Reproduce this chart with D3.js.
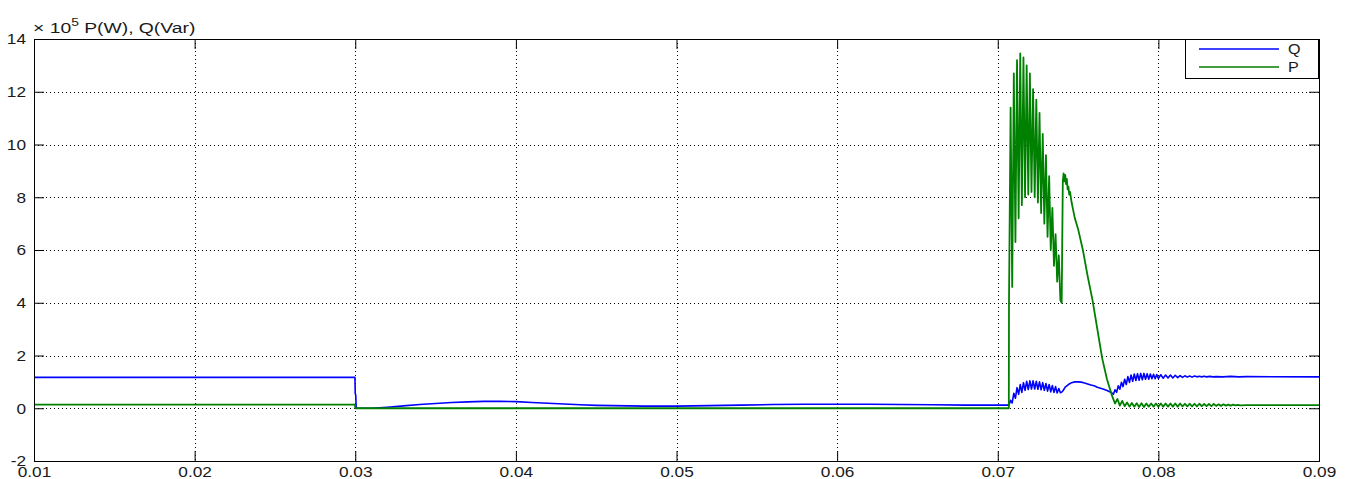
<!DOCTYPE html>
<html><head><meta charset="utf-8">
<script src="https://cdn.jsdelivr.net/npm/d3@7/dist/d3.min.js"></script>
<style>
body{margin:0;background:#fff}
svg{display:block}
text{font-family:"Liberation Sans",Arial,Helvetica,sans-serif;fill:#1a1a1a}
</style>
</head><body>
<svg id="chart" width="1350" height="479"></svg>
<script>
// ---------- data ----------
const xTicks = [0.01,0.02,0.03,0.04,0.05,0.06,0.07,0.08,0.09];
const xTickLabels = ["0.01","0.02","0.03","0.04","0.05","0.06","0.07","0.08","0.09"];
const yTicks = [-2,0,2,4,6,8,10,12,14];
const yTickLabels = ["-2","0","2","4","6","8","10","12","14"];
const seriesNames = ["Q","P"];
const seriesColors = ["#0000ff","#008000"];
const yLabelPrefix = "\u00d7 10";
const yLabelExp = "5";
const yLabelText = " P(W), Q(Var)";

// Q (reactive power, x10^5 Var): [time s, value]
const qPoints = [
 [0.01,1.17],[0.02998,1.17],[0.03,0.55],[0.03003,0.5],[0.03006,0.0],[0.031,0.0],
 [0.032,0.04],[0.033,0.09],[0.034,0.14],[0.035,0.18],[0.036,0.22],[0.037,0.24],
 [0.038,0.26],[0.039,0.26],[0.040,0.25],[0.041,0.22],[0.042,0.19],[0.043,0.16],
 [0.044,0.13],[0.045,0.11],[0.046,0.10],[0.047,0.09],[0.048,0.08],[0.049,0.08],
 [0.050,0.08],[0.051,0.09],[0.052,0.10],[0.054,0.12],[0.056,0.14],[0.058,0.15],
 [0.060,0.15],[0.062,0.15],[0.064,0.14],[0.066,0.13],[0.068,0.12],[0.0707,0.12],
 [0.0708,0.30],[0.0709,0.20],[0.0710,0.57],[0.0711,0.38],[0.0712,0.78],[0.0713,0.53],
 [0.0714,0.90],[0.0715,0.60],[0.0716,0.97],[0.0717,0.68],[0.0718,1.02],[0.0719,0.71],
 [0.0720,1.04],[0.0721,0.73],[0.0722,1.04],[0.0723,0.73],[0.0724,1.02],[0.0725,0.72],
 [0.0726,1.00],[0.0727,0.70],[0.0728,0.97],[0.0729,0.68],[0.0730,0.94],[0.0731,0.65],
 [0.0732,0.90],[0.0733,0.62],[0.0734,0.86],[0.0735,0.60],[0.0736,0.82],[0.0737,0.58],
 [0.0738,0.75],[0.0739,0.59],[0.0740,0.62],
 [0.0741,0.70],[0.0742,0.80],[0.0744,0.90],[0.0746,0.97],[0.0748,1.00],[0.0750,1.00],
 [0.0752,0.99],[0.0754,0.96],[0.0756,0.92],[0.0758,0.88],[0.0760,0.85],[0.0762,0.80],
 [0.0764,0.76],[0.0766,0.72],[0.0768,0.67],[0.0770,0.62],[0.0771,0.58],[0.0772,0.53],
 [0.0773,0.70],[0.0774,0.60],[0.0775,0.85],[0.0776,0.72],[0.0777,0.98],[0.0778,0.82],
 [0.0779,1.10],[0.0780,0.90],[0.0781,1.20],[0.0782,0.98],[0.0783,1.26],[0.0784,1.02],
 [0.0785,1.30],[0.0786,1.05],[0.0787,1.31],[0.0788,1.06],[0.0789,1.32],[0.0790,1.08],
 [0.0791,1.32],[0.0792,1.10],[0.0793,1.31],[0.0794,1.10],[0.0795,1.30],[0.0796,1.12],
 [0.0797,1.29],[0.0798,1.12],[0.0799,1.28],[0.0800,1.13],
 [0.08015,1.27],[0.0803,1.14],[0.08045,1.26],[0.0806,1.15],[0.08075,1.26],[0.0809,1.15],
 [0.08105,1.25],[0.0812,1.16],[0.08135,1.24],[0.0815,1.17],[0.08165,1.23],[0.0818,1.18],
 [0.08195,1.22],[0.0821,1.18],[0.08225,1.22],[0.0824,1.19],[0.08255,1.21],[0.0827,1.19],
 [0.08285,1.21],[0.0830,1.19],[0.0832,1.21],[0.0834,1.19],[0.0836,1.20],[0.0840,1.19],
 [0.0845,1.21],[0.0850,1.19],[0.0855,1.20],[0.0900,1.19]
];

// P (active power, x10^5 W): [time s, value]
const pPoints = [
 [0.01,0.14],[0.02998,0.14],[0.03,0.0],[0.07069,0.0],
 [0.0707,4.0],[0.0708,11.4],[0.0709,4.6],[0.0710,12.7],[0.0711,6.3],[0.0712,13.2],
 [0.0713,7.2],[0.0714,13.45],[0.0715,7.7],[0.0716,13.3],[0.0717,8.0],[0.0718,13.0],
 [0.0719,8.1],[0.0720,12.7],[0.0721,8.2],[0.0722,12.1],[0.0723,8.0],[0.0724,11.7],
 [0.0725,7.8],[0.0726,11.2],[0.0727,7.4],[0.0728,10.4],[0.0729,7.0],[0.0730,9.6],
 [0.0731,6.5],[0.0732,8.8],[0.0733,6.0],[0.0734,7.6],[0.0735,5.4],[0.0736,6.6],
 [0.0737,4.8],[0.0738,5.8],[0.0739,4.1],[0.07398,4.0],
 [0.07405,8.6],[0.0741,8.9],[0.07415,8.6],[0.0742,8.85],[0.07425,8.5],[0.0743,8.7],
 [0.07435,8.3],[0.0744,8.4],[0.07445,8.1],[0.0745,8.2],[0.0746,7.8],[0.0747,7.5],
 [0.0748,7.2],[0.0750,6.8],[0.0753,6.0],[0.0756,5.0],[0.0759,4.1],[0.0762,3.0],
 [0.0765,1.9],[0.0768,1.1],[0.0771,0.5],[0.0773,0.18],
 [0.07745,0.35],[0.0776,0.10],[0.07775,0.28],[0.0779,0.08],[0.07805,0.22],[0.0782,0.06],
 [0.07835,0.20],[0.0785,0.06],[0.07865,0.19],[0.0788,0.05],[0.07895,0.19],[0.0791,0.05],
 [0.07925,0.18],[0.0794,0.06],[0.07955,0.18],[0.0797,0.06],[0.07985,0.18],[0.0800,0.06],
 [0.08015,0.18],[0.0803,0.06],[0.08045,0.18],[0.0806,0.06],[0.08075,0.18],[0.0809,0.06],
 [0.08105,0.18],[0.0812,0.06],[0.08135,0.18],[0.0815,0.07],[0.08165,0.17],[0.0818,0.07],
 [0.08195,0.17],[0.0821,0.07],[0.08225,0.17],[0.0824,0.07],[0.08255,0.17],[0.0827,0.08],
 [0.08285,0.16],[0.0830,0.08],[0.08315,0.16],[0.0833,0.08],[0.08345,0.16],[0.0836,0.09],
 [0.08375,0.15],[0.0839,0.09],[0.08405,0.15],[0.0842,0.10],[0.08435,0.14],[0.0845,0.10],
 [0.08465,0.14],[0.0848,0.11],[0.08495,0.13],[0.0851,0.11],[0.0855,0.12],[0.0900,0.12]
];

// ---------- layout ----------
const svg = d3.select("#chart");
const plot = {left:34, right:1319, top:39, bottom:461};
const x = d3.scaleLinear().domain([0.01,0.09]).range([plot.left, plot.right]);
const y = d3.scaleLinear().domain([-2,14]).range([plot.bottom, plot.top]);
const tickLen = 10;
const tickScaleX = 1.15;

svg.append("rect").attr("width",1350).attr("height",479).attr("fill","#fff");

svg.append("defs").append("clipPath").attr("id","clip")
  .append("rect").attr("x",plot.left).attr("y",plot.top)
  .attr("width",plot.right-plot.left).attr("height",plot.bottom-plot.top);

// grid
const grid = svg.append("g").attr("stroke","#000").attr("stroke-width",1)
  .attr("stroke-dasharray","1,3").attr("fill","none");
grid.selectAll("line.gx").data(xTicks.slice(1,-1)).join("line").attr("class","gx")
  .attr("x1",d=>Math.round(x(d))+0.5).attr("x2",d=>Math.round(x(d))+0.5)
  .attr("y1",plot.top).attr("y2",plot.bottom);
grid.selectAll("line.gy").data(yTicks.slice(1,-1)).join("line").attr("class","gy")
  .attr("y1",d=>Math.round(y(d))+0.5).attr("y2",d=>Math.round(y(d))+0.5)
  .attr("x1",plot.left).attr("x2",plot.right);

// lines
const line = d3.line().x(d=>x(d[0])).y(d=>y(d[1]));
const lines = svg.append("g").attr("clip-path","url(#clip)");
lines.append("path").datum(qPoints).attr("d",line)
  .attr("fill","none").attr("stroke",seriesColors[0]).attr("stroke-width",1.6)
  .attr("stroke-linejoin","round");
lines.append("path").datum(pPoints).attr("d",line)
  .attr("fill","none").attr("stroke",seriesColors[1]).attr("stroke-width",1.8)
  .attr("stroke-linejoin","round");

// axes
function styleAxis(g){
  g.select(".domain").remove();
  g.selectAll(".tick line").attr("stroke","#000");
  g.selectAll("text").attr("font-size",15).attr("fill","#1a1a1a")
    .attr("font-family",'"Liberation Sans",Arial,sans-serif');
}
const xAxisB = d3.axisBottom(x).tickValues(xTicks).tickFormat((d,i)=>xTickLabels[i])
  .tickSizeInner(-tickLen).tickSizeOuter(0).tickPadding(5);
svg.append("g").attr("transform",`translate(0,${plot.bottom})`).call(xAxisB).call(styleAxis)
  .selectAll("text").attr("transform",`scale(${tickScaleX},1)`);
const xAxisT = d3.axisTop(x).tickValues(xTicks).tickFormat("")
  .tickSizeInner(-tickLen).tickSizeOuter(0);
svg.append("g").attr("transform",`translate(0,${plot.top})`).call(xAxisT).call(styleAxis);

const yAxisL = d3.axisLeft(y).tickValues(yTicks).tickFormat((d,i)=>yTickLabels[i])
  .tickSizeInner(-tickLen).tickSizeOuter(0).tickPadding(8);
svg.append("g").attr("transform",`translate(${plot.left},0)`).call(yAxisL).call(styleAxis)
  .selectAll("text").attr("x",-8/tickScaleX).attr("transform",`scale(${tickScaleX},1)`);
const yAxisR = d3.axisRight(y).tickValues(yTicks).tickFormat("")
  .tickSizeInner(-tickLen).tickSizeOuter(0);
svg.append("g").attr("transform",`translate(${plot.right},0)`).call(yAxisR).call(styleAxis);

// box
svg.append("rect").attr("x",plot.left+0.5).attr("y",plot.top+0.5)
  .attr("width",plot.right-plot.left).attr("height",plot.bottom-plot.top)
  .attr("fill","none").attr("stroke","#000").attr("stroke-width",1);

// y label (multiplier)
const lab = svg.append("text").attr("transform",`translate(33,33) scale(1.38,1)`)
  .attr("font-size",14);
lab.append("tspan").text(yLabelPrefix);
lab.append("tspan").attr("dy",-7).attr("font-size",10).text(yLabelExp);
lab.append("tspan").attr("dy",7).text(yLabelText);

// legend
const lg = svg.append("g");
lg.append("rect").attr("x",1185.5).attr("y",plot.top+0.5).attr("width",133).attr("height",39)
  .attr("fill","#fff").attr("stroke","#000").attr("stroke-width",1);
seriesNames.forEach((n,i)=>{
  const ly = 49 + i*18;
  lg.append("line").attr("x1",1199).attr("x2",1279).attr("y1",ly).attr("y2",ly)
    .attr("stroke",seriesColors[i]).attr("stroke-width",1.3);
  lg.append("text").attr("transform",`translate(1288,${ly+5}) scale(1.15,1)`)
    .attr("font-size",14).text(n);
});
</script>
</body></html>
